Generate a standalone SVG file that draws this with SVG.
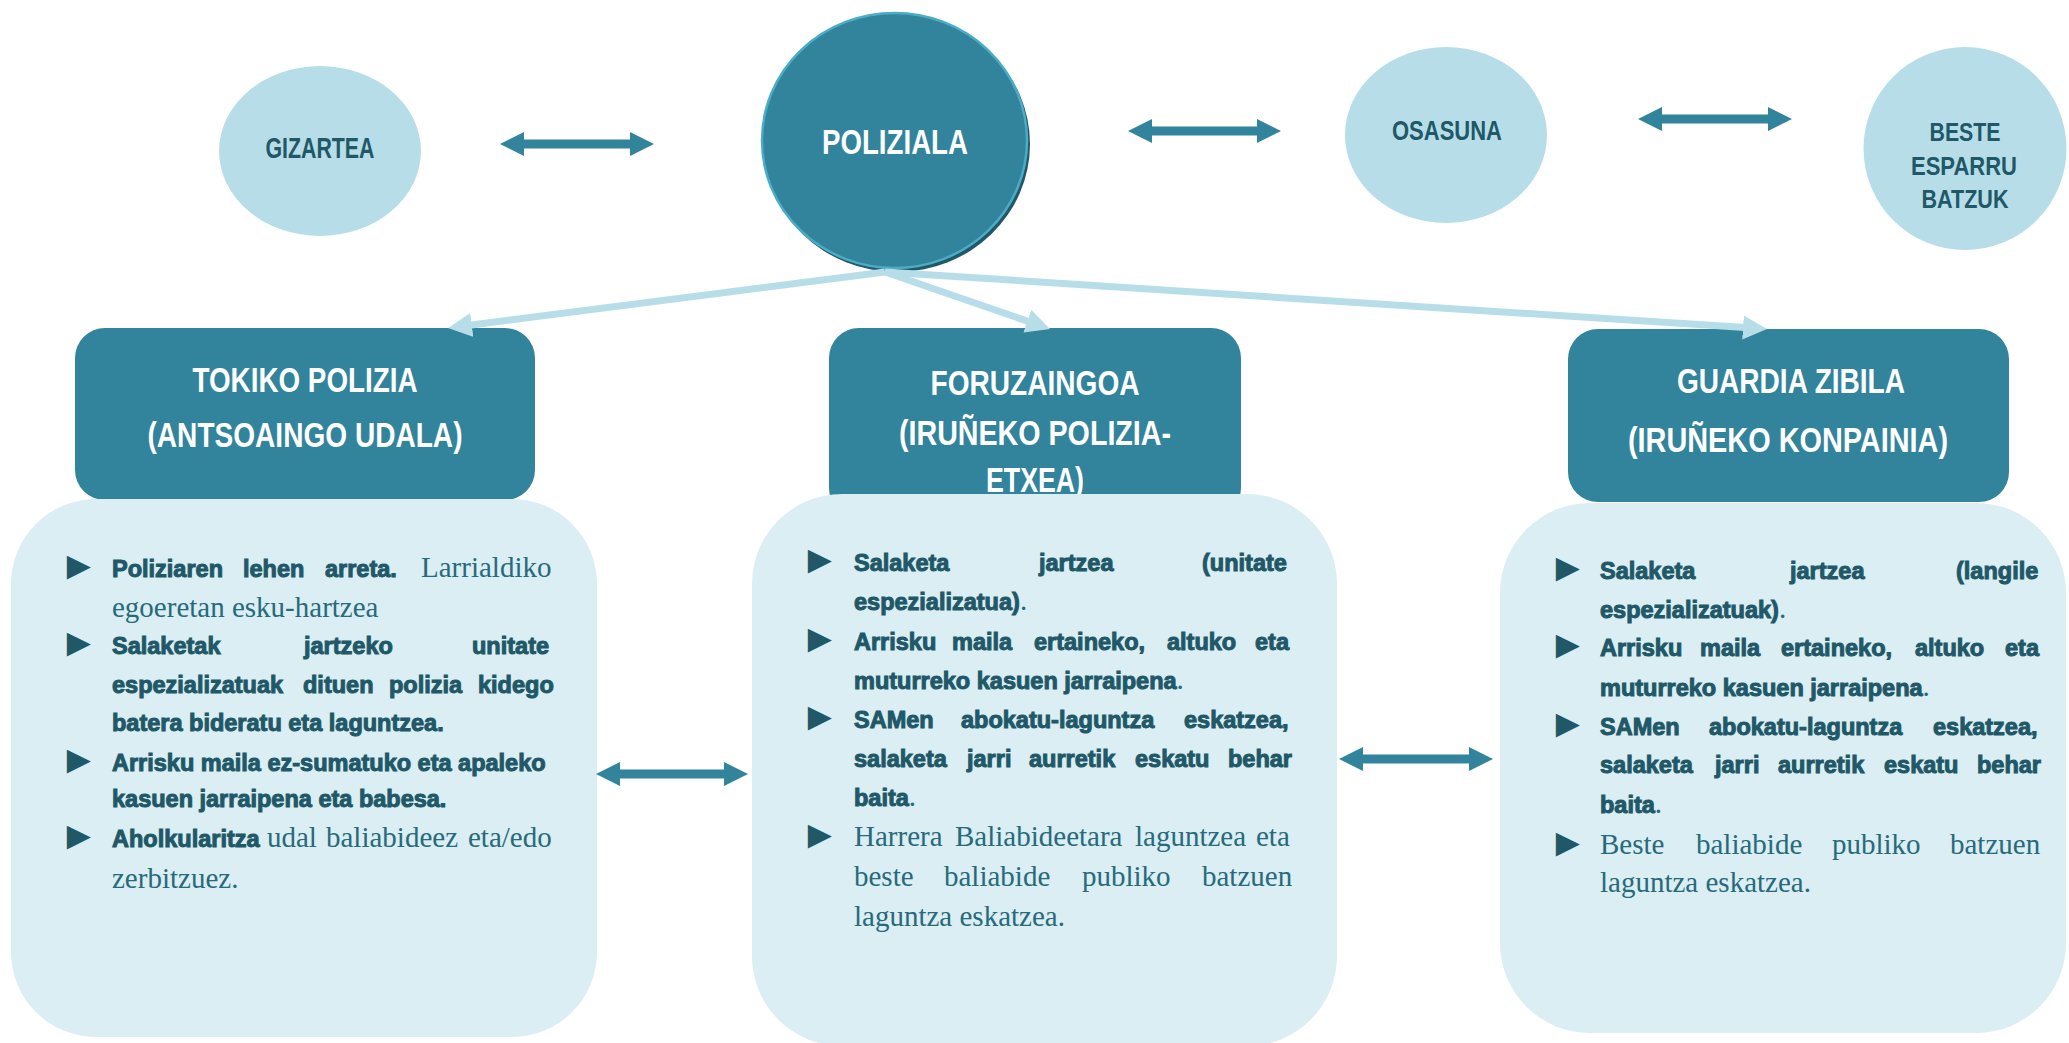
<svg xmlns="http://www.w3.org/2000/svg" width="2069" height="1043" viewBox="0 0 2069 1043">
<defs>
<style>
.teal{fill:#31849B}
.lite{fill:#B7DEE8}
.pale{fill:#DAEEF3}
.lbl{font-family:"Liberation Sans",Arial,sans-serif;font-weight:700;fill:#215868;text-anchor:middle}
.hd{font-family:"Liberation Sans",Arial,sans-serif;font-weight:700;font-size:35px;fill:#FFFFFF;text-anchor:middle}
.b{font-family:"Liberation Sans",Arial,sans-serif;font-weight:700;font-size:23.5px;fill:#215868;stroke:#215868;stroke-width:1}
.r{font-family:"Liberation Serif","Times New Roman",serif;font-weight:400;font-size:29px;fill:#276A7C;stroke:none}
.bul{font-family:"Liberation Sans",Arial,sans-serif;font-size:40px;fill:#215868}
.con{stroke:#B7DEE8;stroke-width:7;fill:none;marker-end:url(#ah)}
.dbl{fill:#31849B}
</style>
<marker id="ah" markerUnits="userSpaceOnUse" markerWidth="26" markerHeight="26" refX="10" refY="12" orient="auto">
<path d="M0,0 L24,12 L0,24 Z" fill="#B7DEE8"/>
</marker>
</defs>
<rect width="2069" height="1043" fill="#FFFFFF"/>

<g id="gizartea">
<ellipse class="lite" cx="320" cy="151" rx="101" ry="85"/>
<text class="lbl" x="320" y="158" font-size="29" textLength="109" lengthAdjust="spacingAndGlyphs">GIZARTEA</text>
</g>

<g id="poliziala">
<ellipse cx="897" cy="144" rx="133" ry="128" fill="#215868"/>
<ellipse cx="894.5" cy="140.5" rx="132.5" ry="127.5" fill="#31849B" stroke="#4BACC6" stroke-width="2.5"/>
<text class="hd" x="895" y="154" textLength="146" lengthAdjust="spacingAndGlyphs">POLIZIALA</text>
</g>

<g id="osasuna">
<ellipse class="lite" cx="1446" cy="135" rx="101" ry="88"/>
<text class="lbl" x="1447" y="140" font-size="28" textLength="110" lengthAdjust="spacingAndGlyphs">OSASUNA</text>
</g>

<g id="beste">
<ellipse class="lite" cx="1965" cy="148.5" rx="101.5" ry="101.5"/>
<text class="lbl" x="1965" y="141" font-size="26" textLength="71" lengthAdjust="spacingAndGlyphs">BESTE</text>
<text class="lbl" x="1964" y="175" font-size="26" textLength="106" lengthAdjust="spacingAndGlyphs">ESPARRU</text>
<text class="lbl" x="1965" y="208" font-size="26" textLength="87" lengthAdjust="spacingAndGlyphs">BATZUK</text>
</g>

<g id="tokiko-header">
<rect class="teal" x="75" y="328" width="460" height="172" rx="30"/>
<text class="hd" x="305" y="392" textLength="225" lengthAdjust="spacingAndGlyphs">TOKIKO POLIZIA</text>
<text class="hd" x="305" y="447" textLength="315" lengthAdjust="spacingAndGlyphs">(ANTSOAINGO UDALA)</text>
</g>

<g id="foruzaingoa-header">
<rect class="teal" x="829" y="328" width="412" height="190" rx="30"/>
<text class="hd" x="1035" y="395" textLength="209" lengthAdjust="spacingAndGlyphs">FORUZAINGOA</text>
<text class="hd" x="1035" y="445" textLength="272" lengthAdjust="spacingAndGlyphs">(IRUÑEKO POLIZIA-</text>
<text class="hd" x="1035" y="492" textLength="98" lengthAdjust="spacingAndGlyphs">ETXEA)</text>
</g>

<g id="guardia-header">
<rect class="teal" x="1568" y="329" width="441" height="173" rx="30"/>
<text class="hd" x="1791" y="393" textLength="228" lengthAdjust="spacingAndGlyphs">GUARDIA ZIBILA</text>
<text class="hd" x="1788" y="452" textLength="320" lengthAdjust="spacingAndGlyphs">(IRUÑEKO KONPAINIA)</text>
</g>

<g id="tokiko-box">
<rect class="pale" x="11" y="499" width="586" height="538" rx="85"/>
<text class="bul" x="59" y="579">►</text>
<text class="b" y="577"><tspan x="112">Poliziaren</tspan><tspan x="243">lehen</tspan><tspan x="325">arreta.</tspan><tspan class="r" x="421">Larrialdiko</tspan></text>
<text class="r" x="112" y="617">egoeretan esku-hartzea</text>
<text class="bul" x="59" y="656">►</text>
<text class="b" y="654"><tspan x="112">Salaketak</tspan><tspan x="304">jartzeko</tspan><tspan x="472">unitate</tspan></text>
<text class="b" y="693"><tspan x="112">espezializatuak</tspan><tspan x="303">dituen</tspan><tspan x="389">polizia</tspan><tspan x="478">kidego</tspan></text>
<text class="b" x="112" y="731">batera bideratu eta laguntzea.</text>
<text class="bul" x="59" y="773">►</text>
<text class="b" x="112" y="771">Arrisku maila ez-sumatuko eta apaleko</text>
<text class="b" x="112" y="807">kasuen jarraipena eta babesa.</text>
<text class="bul" x="59" y="849">►</text>
<text class="b" y="847"><tspan x="112">Aholkularitza</tspan><tspan class="r" x="267">udal</tspan><tspan class="r" x="326">baliabideez</tspan><tspan class="r" x="468">eta/edo</tspan></text>
<text class="r" x="112" y="888">zerbitzuez.</text>
</g>

<g id="foruzaingoa-box">
<rect class="pale" x="752" y="494" width="585" height="552" rx="90"/>
<text class="bul" x="800" y="573">►</text>
<text class="b" y="571"><tspan x="854">Salaketa</tspan><tspan x="1039">jartzea</tspan><tspan x="1202">(unitate</tspan></text>
<text class="b" x="854" y="610">espezializatua)<tspan class="r">.</tspan></text>
<text class="bul" x="800" y="652">►</text>
<text class="b" y="650"><tspan x="854">Arrisku</tspan><tspan x="952">maila</tspan><tspan x="1034">ertaineko,</tspan><tspan x="1167">altuko</tspan><tspan x="1255">eta</tspan></text>
<text class="b" x="854" y="689">muturreko kasuen jarraipena<tspan class="r">.</tspan></text>
<text class="bul" x="800" y="730">►</text>
<text class="b" y="728"><tspan x="854">SAMen</tspan><tspan x="961">abokatu-laguntza</tspan><tspan x="1184">eskatzea,</tspan></text>
<text class="b" y="767"><tspan x="854">salaketa</tspan><tspan x="967">jarri</tspan><tspan x="1029">aurretik</tspan><tspan x="1135">eskatu</tspan><tspan x="1228">behar</tspan></text>
<text class="b" x="854" y="806">baita<tspan class="r">.</tspan></text>
<text class="bul" x="800" y="848">►</text>
<text class="r" y="846"><tspan x="854">Harrera</tspan><tspan x="955">Baliabideetara</tspan><tspan x="1135">laguntzea</tspan><tspan x="1256">eta</tspan></text>
<text class="r" y="886"><tspan x="854">beste</tspan><tspan x="944">baliabide</tspan><tspan x="1082">publiko</tspan><tspan x="1202">batzuen</tspan></text>
<text class="r" x="854" y="926">laguntza eskatzea.</text>
</g>

<g id="guardia-box">
<rect class="pale" x="1500" y="503" width="566" height="530" rx="90"/>
<text class="bul" x="1548" y="581">►</text>
<text class="b" y="579"><tspan x="1600">Salaketa</tspan><tspan x="1790">jartzea</tspan><tspan x="1956">(langile</tspan></text>
<text class="b" x="1600" y="618">espezializatuak)<tspan class="r">.</tspan></text>
<text class="bul" x="1548" y="658">►</text>
<text class="b" y="656"><tspan x="1600">Arrisku</tspan><tspan x="1700">maila</tspan><tspan x="1781">ertaineko,</tspan><tspan x="1915">altuko</tspan><tspan x="2005">eta</tspan></text>
<text class="b" x="1600" y="696">muturreko kasuen jarraipena<tspan class="r">.</tspan></text>
<text class="bul" x="1548" y="737">►</text>
<text class="b" y="735"><tspan x="1600">SAMen</tspan><tspan x="1709">abokatu-laguntza</tspan><tspan x="1933">eskatzea,</tspan></text>
<text class="b" y="773"><tspan x="1600">salaketa</tspan><tspan x="1715">jarri</tspan><tspan x="1778">aurretik</tspan><tspan x="1884">eskatu</tspan><tspan x="1977">behar</tspan></text>
<text class="b" x="1600" y="813">baita<tspan class="r">.</tspan></text>
<text class="bul" x="1548" y="856">►</text>
<text class="r" y="854"><tspan x="1600">Beste</tspan><tspan x="1696">baliabide</tspan><tspan x="1832">publiko</tspan><tspan x="1950">batzuen</tspan></text>
<text class="r" x="1600" y="892">laguntza eskatzea.</text>
</g>

<g id="connectors">
<line class="con" x1="885" y1="272" x2="461.9" y2="326.2"/>
<line class="con" x1="885" y1="272" x2="1036.8" y2="324.4"/>
<line class="con" x1="885" y1="272" x2="1753" y2="328.1"/>
<path class="dbl" d="M500,144 L524,132 L524,139.5 L630,139.5 L630,132 L654,144 L630,156 L630,148.5 L524,148.5 L524,156 Z"/>
<path class="dbl" d="M1128,131 L1152,119 L1152,126.5 L1257,126.5 L1257,119 L1281,131 L1257,143 L1257,135.5 L1152,135.5 L1152,143 Z"/>
<path class="dbl" d="M1638,119 L1662,107 L1662,114.5 L1768,114.5 L1768,107 L1792,119 L1768,131 L1768,123.5 L1662,123.5 L1662,131 Z"/>
<path class="dbl" d="M596,774 L620,762 L620,769.5 L724,769.5 L724,762 L748,774 L724,786 L724,778.5 L620,778.5 L620,786 Z"/>
<path class="dbl" d="M1339,759 L1363,747 L1363,754.5 L1469,754.5 L1469,747 L1493,759 L1469,771 L1469,763.5 L1363,763.5 L1363,771 Z"/>
</g>
</svg>
